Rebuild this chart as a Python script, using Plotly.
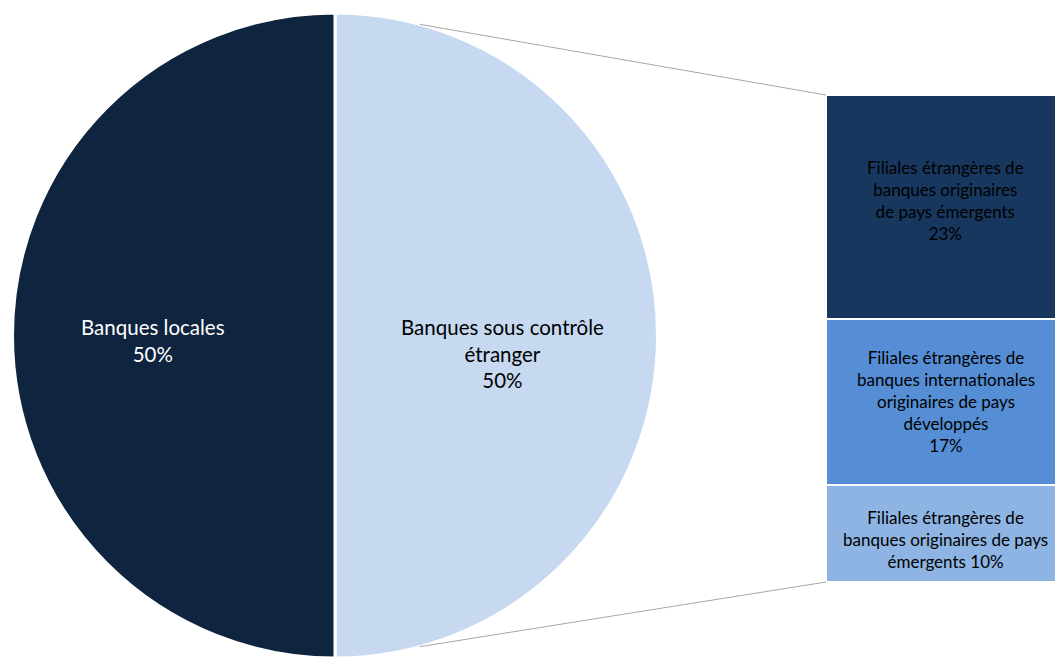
import math
import plotly.graph_objects as go

# Pie: ownership of the banking sector
pie_labels = ["Banques sous contrôle<br>étranger", "Banques locales"]
pie_values = [50, 50]
pie_colors = ["#C6D9F1", "#0F243E"]
pie_text_colors = ["#000000", "#FFFFFF"]

# Breakdown of the foreign-controlled share (stacked bar, bottom to top)
bar_labels = [
    "Filiales étrangères de<br>banques originaires de pays<br>émergents {v}%",
    "Filiales étrangères de<br>banques internationales<br>originaires de pays<br>développés<br>{v}%",
    "Filiales étrangères de<br>banques originaires<br>de pays émergents<br>{v}%",
]
bar_values = [10, 17, 23]
bar_colors = ["#8EB4E3", "#558ED5", "#17375E"]

W, H = 1056, 658
FONT = "Lato, 'Open Sans', sans-serif"

# pixel geometry
pie_left, pie_right, pie_top = 8, 662, 13
bar_left, bar_top, bar_bottom = 826, 95, 582

fig = go.Figure()

fig.add_trace(go.Pie(
    labels=pie_labels,
    values=pie_values,
    sort=False,
    direction="clockwise",
    rotation=0,
    marker=dict(colors=pie_colors, line=dict(color="white", width=3)),
    textinfo="none",
    hoverinfo="label+percent",
    domain=dict(x=[pie_left / W, pie_right / W], y=[0, 1 - pie_top / H]),
))

for lab, val, col in zip(bar_labels, bar_values, bar_colors):
    fig.add_trace(go.Bar(
        x=[0], y=[val], width=1,
        marker=dict(color=col, line=dict(color="white", width=2)),
        hoverinfo="y",
        xaxis="x", yaxis="y",
    ))

# bar labels near the middle of each segment
label_shift = [-0.6, 0.0, 0.7]
cum = 0
for lab, val, sh in zip(bar_labels, bar_values, label_shift):
    fig.add_annotation(
        x=0.02, y=cum + val / 2 + sh, xref="x", yref="y",
        text=lab.format(v=val), showarrow=False,
        xanchor="center", yanchor="middle",
        font=dict(family=FONT, size=17, color="#000000"),
        align="center",
    )
    cum += val

# pie labels
radius_px = (H - pie_top) / 2
cx_px = (pie_left + pie_right) / 2
cy_px = pie_top + radius_px
label_pos = [(cx_px + 0.52 * radius_px, cy_px + 18), (cx_px - 0.565 * radius_px, cy_px + 5)]
for lab, val, tc, (px, py) in zip(pie_labels, pie_values, pie_text_colors, label_pos):
    fig.add_annotation(
        x=px / W, y=1 - py / H, xref="paper", yref="paper",
        text=f"{lab}<br>{val}%", showarrow=False,
        xanchor="center", yanchor="middle",
        font=dict(family=FONT, size=20.5, color=tc),
        align="center",
    )

# connector lines from the pie edge to the bar corners
ang = math.radians(15.2)
ex = cx_px + radius_px * math.sin(ang)
top_y = cy_px - radius_px * math.cos(ang)
bot_y = cy_px + radius_px * math.cos(ang)
for y0, y1 in [(top_y, bar_top), (bot_y, bar_bottom)]:
    fig.add_shape(
        type="line", xref="paper", yref="paper",
        x0=ex / W, y0=1 - y0 / H, x1=bar_left / W, y1=1 - y1 / H,
        line=dict(color="#A6A6A6", width=1),
    )

fig.update_layout(
    width=W, height=H,
    margin=dict(l=0, r=0, t=0, b=0),
    paper_bgcolor="white", plot_bgcolor="white",
    showlegend=False,
    barmode="stack",
    xaxis=dict(domain=[bar_left / W, 1], range=[-0.5, 0.5], visible=False, fixedrange=True),
    yaxis=dict(domain=[1 - bar_bottom / H, 1 - bar_top / H], range=[0, sum(bar_values)],
               visible=False, fixedrange=True),
)

fig.write_html("out.html")
